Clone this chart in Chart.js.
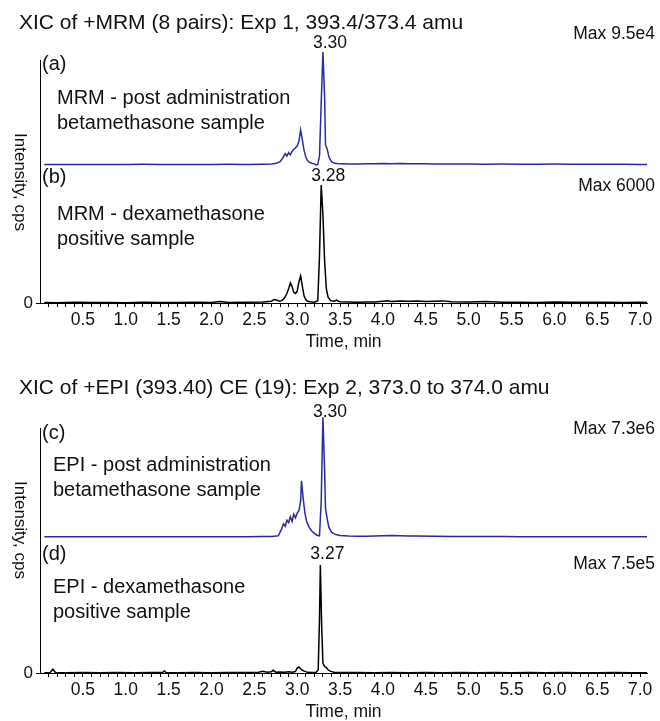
<!DOCTYPE html>
<html>
<head>
<meta charset="utf-8">
<script src="https://cdn.jsdelivr.net/npm/chart.js@4"></script>
<style>
  body { margin: 0; background: #fff; }
  canvas { display: block; }
</style>
</head>
<body>
<canvas id="mrmChart" width="660" height="368"></canvas>
<canvas id="epiChart" width="660" height="353"></canvas>
<script>
// Retention time (min) and relative intensity (% of each trace's Max)
const mrmBetaTime = [0.05,0.2,0.4,0.6,0.8,1.0,1.2,1.4,1.6,1.8,2.0,2.2,2.4,2.6,2.7,2.76,2.8,2.83,2.86,2.88,2.9,2.92,2.94,2.96,2.98,3.0,3.02,3.04,3.06,3.08,3.1,3.12,3.14,3.17,3.2,3.22,3.24,3.26,3.28,3.3,3.32,3.33,3.35,3.37,3.4,3.44,3.5,3.6,3.7,3.8,3.9,4.0,4.1,4.2,4.3,4.4,4.5,4.6,4.8,5.0,5.2,5.4,5.6,5.8,6.0,6.2,6.4,6.6,6.8,7.0,7.08];
const mrmBetaInt = [0.4,0.5,0.4,0.5,0.4,0.5,0.6,0.4,0.5,0.4,0.5,0.6,0.5,0.7,0.8,1.5,3,6,10,8,11,9,12,14,15,17,21,31,22,13,7,4,2.5,1.5,1,0,0.5,8,55,100,60,18,14,7,3,1.5,1,0.8,0.9,1.2,1.0,1.3,1.1,1.4,1.2,1.0,1.1,0.9,0.8,0.9,0.7,0.8,0.7,0.6,0.8,0.7,0.6,0.7,0.6,0.5,0.5];

const mrmDexaTime = [0.05,0.2,0.4,0.6,0.8,1.0,1.2,1.4,1.6,1.8,2.0,2.1,2.2,2.4,2.6,2.7,2.73,2.76,2.79,2.82,2.85,2.88,2.9,2.92,2.94,2.96,2.98,3.0,3.02,3.04,3.06,3.08,3.1,3.12,3.15,3.2,3.24,3.26,3.28,3.3,3.32,3.34,3.36,3.39,3.43,3.46,3.48,3.5,3.6,3.7,3.8,3.9,4.0,4.05,4.1,4.2,4.3,4.4,4.5,4.6,4.7,4.8,5.0,5.2,5.4,5.6,5.8,6.0,6.2,6.4,6.6,6.8,7.0,7.08];
const mrmDexaInt = [0.5,0.3,0.6,0.4,0.5,0.3,0.6,0.4,0.5,0.7,0.5,1.2,0.5,0.6,0.8,1.5,3,2.5,1.5,2,4,8,12,17,14,9,8,10,18,23,14,6,3,1.5,1,0.7,2,40,100,75,35,12,5,2,1.5,2.5,1.5,1,0.8,0.7,0.9,0.8,1.5,1.8,1.2,1.6,1.4,1.7,1.2,1.5,1.8,1.0,0.8,1.2,0.7,0.6,0.5,0.9,0.6,0.7,0.6,0.5,0.7,0.5];

const epiBetaTime = [0.05,0.2,0.4,0.6,0.8,1.0,1.2,1.4,1.6,1.8,2.0,2.2,2.4,2.6,2.7,2.78,2.82,2.84,2.86,2.88,2.9,2.92,2.94,2.96,2.98,3.0,3.02,3.04,3.05,3.07,3.09,3.11,3.14,3.17,3.2,3.23,3.26,3.28,3.3,3.32,3.33,3.35,3.37,3.4,3.45,3.5,3.6,3.7,3.8,3.9,4.0,4.1,4.2,4.3,4.4,4.6,4.8,5.0,5.2,5.4,5.6,5.8,6.0,6.2,6.4,6.6,6.8,7.0,7.08];
const epiBetaInt = [0.2,0.3,0.2,0.3,0.2,0.3,0.2,0.3,0.2,0.3,0.3,0.2,0.3,0.4,0.5,1,7,11,9,14,12,17,13,19,16,20,22,30,47,32,20,13,8,5,3,1.5,1,30,100,55,24,15,8,4,2,1.2,0.8,0.6,0.7,0.8,1.0,1.2,1.1,0.9,0.8,0.6,0.5,0.5,0.4,0.4,0.3,0.3,0.3,0.2,0.3,0.2,0.3,0.2,0.2];

const epiDexaTime = [0.05,0.12,0.15,0.18,0.3,0.5,0.7,0.9,1.1,1.3,1.43,1.45,1.47,1.6,1.8,2.0,2.2,2.4,2.55,2.6,2.65,2.7,2.72,2.75,2.8,2.85,2.9,2.95,2.98,3.0,3.02,3.04,3.06,3.09,3.12,3.18,3.22,3.245,3.26,3.27,3.285,3.3,3.32,3.34,3.36,3.39,3.43,3.5,3.7,3.9,4.1,4.3,4.5,4.7,4.9,5.1,5.3,5.5,5.7,5.9,6.1,6.3,6.5,6.7,6.9,7.08];
const epiDexaInt = [0.3,0.4,3.5,0.4,0.3,0.4,0.3,0.4,0.3,0.4,0.4,2,0.4,0.3,0.4,0.3,0.5,0.4,0.8,1.5,0.7,1.2,2.5,0.8,1,0.7,1.2,0.8,1.5,4.5,5.5,4,2.5,1.5,0.6,0.4,0.5,3,50,100,45,9,6,5,3,1.5,0.8,0.5,0.4,0.3,0.4,0.3,0.4,0.3,0.4,0.3,0.4,0.3,0.4,0.3,0.4,0.3,0.3,0.4,0.3,0.3];

// Axis tick labels (minor ticks every 0.1 min)
const xTickLabels = ['0.5','1.0','1.5','2.0','2.5','3.0','3.5','4.0','4.5','5.0','5.5','6.0','6.5','7.0'];
const peakTimes = [3.30, 3.28, 3.30, 3.27];
const maxLabels = ['Max 9.5e4', 'Max 6000', 'Max 7.3e6', 'Max 7.5e5'];

const FONT = "'Liberation Sans', Arial, Helvetica, sans-serif";
const INK = '#111';
const BLUE = '#2a2a9e';

Chart.defaults.font.family = FONT;

function points(times, vals) {
    return times.map((t, i) => ({ x: t, y: vals[i] }));
}

// Draws titles, panel letters, notes, peak labels and the rotated y title
const panelText = {
    id: 'panelText',
    afterDraw(chart, args, opts) {
        const { ctx } = chart;
        const xs = chart.scales.x;
        ctx.save();
        ctx.fillStyle = INK;
        ctx.textBaseline = 'middle';
        opts.items.forEach(it => {
            ctx.font = it.size + 'px ' + FONT;
            ctx.textAlign = it.align || 'left';
            const px = it.time !== undefined ? xs.getPixelForValue(it.time) + 7 : it.x;
            ctx.fillText(it.text, px, it.y);
        });
        // y axis title, reads top to bottom
        ctx.translate(20, opts.yTitleY);
        ctx.rotate(Math.PI / 2);
        ctx.font = '17px ' + FONT;
        ctx.textAlign = 'center';
        ctx.fillText('Intensity, cps', 0, 0);
        ctx.restore();
    }
};

function yAxis(max, weight, showZero) {
    return {
        type: 'linear',
        position: 'left',
        stack: 'left',
        stackWeight: weight,
        min: 0,
        max: max,
        grid: { display: showZero, drawOnChartArea: false, drawTicks: true, tickLength: 4, color: '#000' },
        border: { display: true, color: '#000', width: 1 },
        ticks: {
            display: showZero,
            padding: 3,
            color: INK,
            font: { size: 17 },
            callback: v => (v === 0 ? '0' : '')
        },
        afterBuildTicks: s => { s.ticks = [{ value: 0 }]; },
        afterFit: s => { s.width = 40; }
    };
}

function makeChart(id, cfg) {
    const ctx = document.getElementById(id).getContext('2d');
    return new Chart(ctx, {
        type: 'line',
        data: {
            datasets: [
                // bottom trace first so its axis stacks below
                { data: cfg.lower, yAxisID: 'yLow', borderColor: '#000', borderWidth: 1.5, pointRadius: 0, tension: 0, clip: false },
                { data: cfg.upper, yAxisID: 'yUp', borderColor: BLUE, borderWidth: 1.5, pointRadius: 0, tension: 0, clip: false }
            ]
        },
        options: {
            responsive: false,
            animation: false,
            devicePixelRatio: 1,
            events: [],
            layout: { padding: { top: cfg.top, right: 13, left: 0, bottom: 0 } },
            plugins: {
                legend: { display: false },
                tooltip: { enabled: false },
                panelText: { items: cfg.items, yTitleY: cfg.yTitleY }
            },
            scales: {
                x: {
                    type: 'linear',
                    min: 0,
                    max: 7.08,
                    grid: { display: true, drawOnChartArea: false, drawTicks: true, tickLength: 4, color: '#000' },
                    border: { display: true, color: '#000', width: 1 },
                    ticks: {
                        autoSkip: false,
                        maxRotation: 0,
                        padding: 3,
                        color: INK,
                        font: { size: 17.5 },
                        callback: v => {
                            const lab = v.toFixed(1);
                            return xTickLabels.includes(lab) && Math.abs(v * 2 - Math.round(v * 2)) < 1e-6 ? lab : '';
                        }
                    },
                    afterBuildTicks: s => {
                        const t = [];
                        for (let i = 1; i <= 70; i++) t.push({ value: i / 10 });
                        s.ticks = t;
                    },
                    afterFit: s => { s.height = cfg.xHeight; },
                    title: {
                        display: true,
                        text: 'Time, min',
                        color: INK,
                        font: { size: 17.5, lineHeight: 1.0 },
                        padding: { top: 0, bottom: cfg.titlePad }
                    }
                },
                yLow: yAxis(cfg.lowMax, cfg.lowWeight, true),
                yUp: yAxis(cfg.upMax, cfg.upWeight, false)
            }
        },
        plugins: [panelText]
    });
}

// MRM block: (a) upper blue, (b) lower black
makeChart('mrmChart', {
    upper: points(mrmBetaTime, mrmBetaInt),
    lower: points(mrmDexaTime, mrmDexaInt),
    top: 60, xHeight: 65, titlePad: 17,
    upMax: 93, upWeight: 105,
    lowMax: 117, lowWeight: 138,
    yTitleY: 182,
    items: [
        { text: 'XIC of +MRM (8 pairs): Exp 1, 393.4/373.4 amu', x: 19, y: 23, size: 21 },
        { text: maxLabels[0], x: 655, y: 34, size: 17.5, align: 'right' },
        { text: peakTimes[0].toFixed(2), time: peakTimes[0], y: 43, size: 17.5, align: 'center' },
        { text: '(a)', x: 42, y: 64, size: 20 },
        { text: 'MRM - post administration', x: 57, y: 98, size: 20 },
        { text: 'betamethasone sample', x: 57, y: 123, size: 20 },
        { text: '(b)', x: 42, y: 177, size: 20 },
        { text: peakTimes[1].toFixed(2), time: peakTimes[1], y: 176, size: 17.5, align: 'center' },
        { text: maxLabels[1], x: 655, y: 186, size: 17.5, align: 'right' },
        { text: 'MRM - dexamethasone', x: 57, y: 214, size: 20 },
        { text: 'positive sample', x: 57, y: 239, size: 20 }
    ]
});

// EPI block: (c) upper blue, (d) lower black
makeChart('epiChart', {
    upper: points(epiBetaTime, epiBetaInt),
    lower: points(epiDexaTime, epiDexaInt),
    top: 60, xHeight: 48, titlePad: 0,
    upMax: 91, upWeight: 109,
    lowMax: 126, lowWeight: 136,
    yTitleY: 162,
    items: [
        { text: 'XIC of +EPI (393.40) CE (19): Exp 2, 373.0 to 374.0 amu', x: 19, y: 20, size: 21 },
        { text: peakTimes[2].toFixed(2), time: peakTimes[2], y: 44, size: 17.5, align: 'center' },
        { text: maxLabels[2], x: 655, y: 61, size: 17.5, align: 'right' },
        { text: '(c)', x: 42, y: 65, size: 20 },
        { text: 'EPI - post administration', x: 53, y: 97, size: 20 },
        { text: 'betamethasone sample', x: 53, y: 122, size: 20 },
        { text: '(d)', x: 42, y: 186, size: 20 },
        { text: peakTimes[3].toFixed(2), time: peakTimes[3], y: 186, size: 17.5, align: 'center' },
        { text: maxLabels[3], x: 655, y: 196, size: 17.5, align: 'right' },
        { text: 'EPI - dexamethasone', x: 53, y: 219, size: 20 },
        { text: 'positive sample', x: 53, y: 244, size: 20 }
    ]
});
</script>
</body>
</html>
